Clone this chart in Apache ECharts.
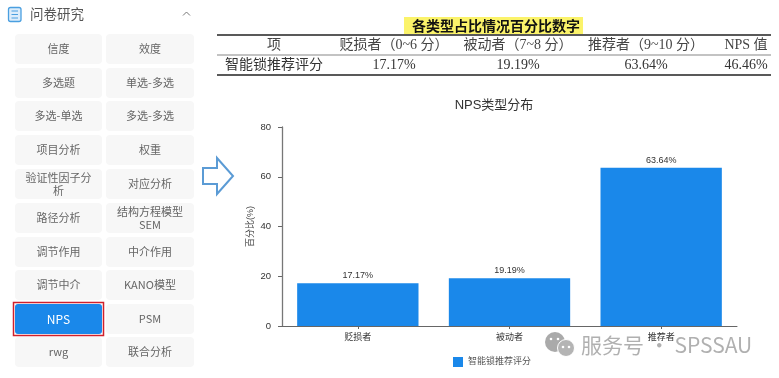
<!DOCTYPE html>
<html>
<head>
<meta charset="utf-8">
<style>
  html, body { margin: 0; padding: 0; background: #fff; }
  #chart-container { width: 779px; height: 378px; }
</style>
<script src="https://cdn.jsdelivr.net/npm/echarts@6/dist/echarts.min.js"></script>
</head>
<body>
<div id="chart-container"></div>
<script>
const categories = ["贬损者", "被动者", "推荐者"];
const seriesName = "智能锁推荐评分";
const percentValues = [17.17, 19.19, 63.64];

const tableTitle = "各类型占比情况百分比数字";
const tableHeader = ["项", "贬损者（0~6 分）", "被动者（7~8 分）", "推荐者（9~10 分）", "NPS 值"];
const tableRow = ["智能锁推荐评分", "17.17%", "19.19%", "63.64%", "46.46%"];
const tableColX = [274, 394, 518, 646, 746];

const menuTitle = "问卷研究";
const menuLeft = ["信度", "多选题", "多选-单选", "项目分析", "验证性因子分析", "路径分析", "调节作用", "调节中介", "NPS", "rwg"];
const menuRight = ["效度", "单选-多选", "多选-多选", "权重", "对应分析", "结构方程模型\nSEM", "中介作用", "KANO模型", "PSM", "联合分析"];

const sansFont = '"Noto Sans CJK SC", "Noto Sans", sans-serif';
const chartFont = '"Liberation Sans", "Noto Sans CJK SC", sans-serif';
const serifFont = '"Liberation Serif", "Noto Sans CJK SC", serif';

var dom = document.getElementById("chart-container");
var myChart = echarts.init(dom, null, { renderer: "canvas" });

var graphics = [];

function addText(x, y, text, font, size, color, extra) {
  graphics.push({
    type: "text",
    x: x,
    y: y,
    silent: true,
    z: 5,
    style: Object.assign({
      text: text,
      fontFamily: font,
      fontSize: size,
      fill: color,
      align: "center",
      verticalAlign: "middle",
      lineHeight: 13,
    }, extra || {}),
  });
}

function addRect(x, y, w, h, fill, r, z) {
  graphics.push({
    type: "rect",
    silent: true,
    z: z || 1,
    shape: { x: x, y: y, width: w, height: h, r: r || 0 },
    style: { fill: fill },
  });
}

// sidebar
graphics.push({
  type: "rect",
  silent: true,
  z: 2,
  shape: { x: 8.5, y: 7.5, width: 12.5, height: 14, r: 2 },
  style: { fill: "#dcedfb", stroke: "#4a9fe0", lineWidth: 1.3 },
});
[11, 14.5, 18].forEach(function (y) {
  graphics.push({
    type: "line",
    silent: true,
    z: 3,
    shape: { x1: 11.5, y1: y, x2: 18, y2: y },
    style: { stroke: "#4a9fe0", lineWidth: 1 },
  });
});
addText(30, 14, menuTitle, sansFont, 13.5, "#555", { align: "left" });
graphics.push({
  type: "polyline",
  silent: true,
  z: 3,
  shape: { points: [[183, 15.5], [186.5, 12], [190, 15.5]] },
  style: { stroke: "#777", lineWidth: 1, fill: null },
});

const rowTops = [34, 68, 101, 135, 169, 203, 237, 270, 304, 337];
menuLeft.forEach(function (name, i) {
  var active = name === "NPS";
  if (active) {
    graphics.push({
      type: "rect",
      silent: true,
      z: 1,
      shape: { x: 13.5, y: rowTops[i] - 1.5, width: 90, height: 33 },
      style: { fill: "#fff", stroke: "#d0202c", lineWidth: 1.5 },
    });
    addRect(15, rowTops[i], 87, 30, "#1a88ea", 3, 2);
  } else {
    addRect(15, rowTops[i], 87, 30, "#f7f7f7", 4, 1);
  }
  if (name === "验证性因子分析") {
    addText(58.5, rowTops[i] + 15, "验证性因子分\n析", sansFont, 11, "#666");
  } else {
    addText(58.5, rowTops[i] + 15, name, sansFont, active ? 12 : 11, active ? "#fff" : "#666");
  }
  addRect(106, rowTops[i], 88, 30, "#f7f7f7", 4, 1);
  addText(150, rowTops[i] + 15, menuRight[i], sansFont, 11, "#666");
});

// arrow between sidebar and chart
graphics.push({
  type: "polygon",
  silent: true,
  z: 3,
  shape: { points: [[203, 168], [217, 168], [217, 158], [233, 176], [217, 194], [217, 184], [203, 184]] },
  style: { fill: "#fff", stroke: "#5b9bd5", lineWidth: 2 },
});

// table
addRect(404, 17, 179, 17, "#fbf36a", 0, 1);
addText(496, 25.5, tableTitle, sansFont, 14, "#111", { fontWeight: "bold" });
[[35, 1.6, "#222"], [55, 1.2, "#888"], [75, 1.6, "#222"]].forEach(function (r) {
  graphics.push({
    type: "line",
    silent: true,
    z: 2,
    shape: { x1: 217, y1: r[0], x2: 771, y2: r[0] },
    style: { stroke: r[2], lineWidth: r[1] },
  });
});
tableHeader.forEach(function (t, i) {
  addText(tableColX[i], 45, t, serifFont, 14, "#444");
});
tableRow.forEach(function (t, i) {
  addText(tableColX[i], 65, t, serifFont, 14, "#333");
});

// watermark
graphics.push({
  type: "circle", silent: true, z: 6,
  shape: { cx: 555, cy: 342, r: 10 },
  style: { fill: "#aaa" },
});
graphics.push({
  type: "circle", silent: true, z: 7,
  shape: { cx: 566, cy: 348, r: 8.5 },
  style: { fill: "#b4b4b4", stroke: "#fff", lineWidth: 1 },
});
[[551, 339], [558, 339], [563, 347], [569, 347]].forEach(function (p) {
  graphics.push({
    type: "circle", silent: true, z: 8,
    shape: { cx: p[0], cy: p[1], r: 1.3 },
    style: { fill: "#fff" },
  });
});
addText(581, 345, "服务号 · SPSSAU", sansFont, 21, "rgba(150,150,150,0.75)", { align: "left" });

var option = {
  animation: false,
  backgroundColor: "#fff",
  title: {
    text: "NPS类型分布",
    left: 489,
    top: 94,
    textAlign: "center",
    textStyle: { fontFamily: chartFont, fontSize: 13, fontWeight: "normal", color: "#333" },
  },
  legend: {
    data: [seriesName],
    left: 448,
    top: 352,
    itemWidth: 10,
    itemHeight: 10,
    itemGap: 5,
    icon: "rect",
    textStyle: { fontFamily: chartFont, fontSize: 9, color: "#555" },
  },
  grid: { left: 282, top: 127, width: 455, height: 199 },
  xAxis: {
    type: "category",
    data: categories,
    axisLine: { lineStyle: { color: "#666", width: 1 } },
    axisTick: { show: true, alignWithLabel: true, length: 3, lineStyle: { color: "#666" } },
    axisLabel: { fontFamily: chartFont, fontSize: 9, color: "#333", margin: 7 },
  },
  yAxis: {
    type: "value",
    min: 0,
    max: 80,
    interval: 20,
    name: "百分比(%)",
    nameLocation: "middle",
    nameGap: 27,
    nameMoveOverlap: false,
    nameRotate: 90,
    nameTextStyle: { fontFamily: chartFont, fontSize: 9, color: "#444" },
    axisLine: { show: true, lineStyle: { color: "#777", width: 1.3 } },
    axisTick: { show: true, length: 4, lineStyle: { color: "#666" } },
    axisLabel: { fontFamily: chartFont, fontSize: 9.5, color: "#333", margin: 11 },
    splitLine: { show: false },
  },
  series: [
    {
      name: seriesName,
      type: "bar",
      data: percentValues,
      barWidth: "80%",
      itemStyle: { color: "#1a88ea" },
      label: {
        show: true,
        position: "top",
        distance: 3,
        fontFamily: chartFont,
        fontSize: 9,
        color: "#333",
        formatter: function (p) {
          return p.value.toFixed(2) + "%";
        },
      },
    },
  ],
  graphic: { elements: graphics },
};

myChart.setOption(option);
window.addEventListener("resize", myChart.resize);
</script>
</body>
</html>
